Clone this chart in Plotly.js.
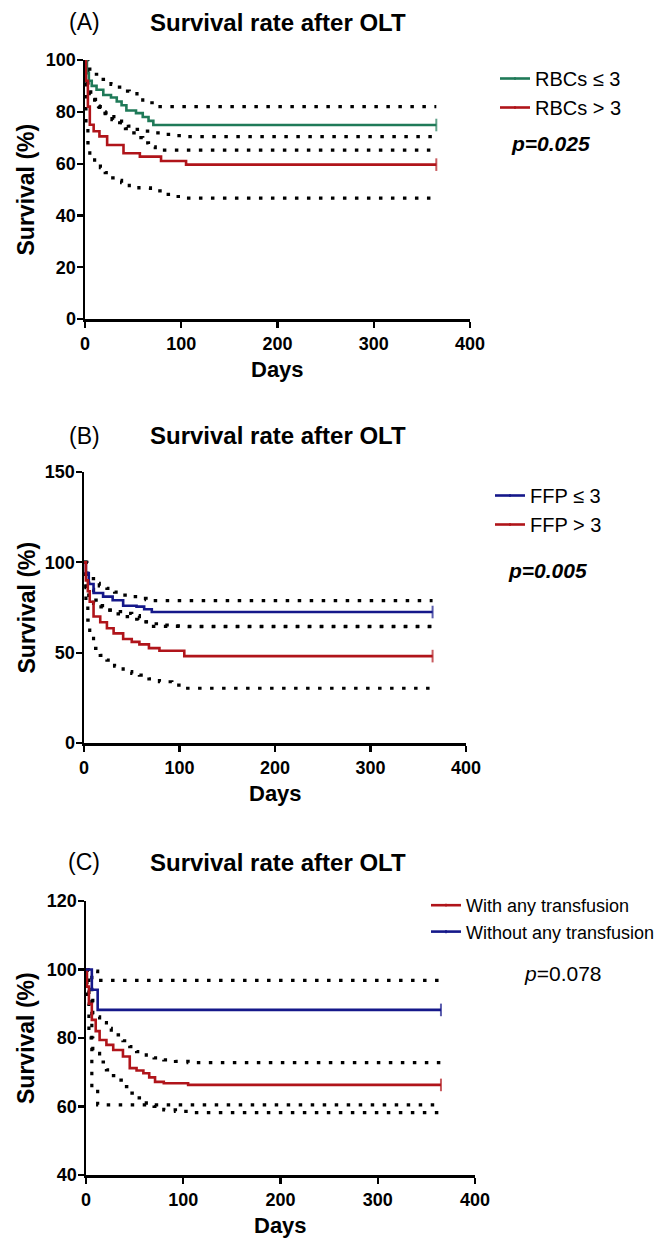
<!DOCTYPE html>
<html>
<head>
<meta charset="utf-8">
<script src="https://cdn.plot.ly/plotly-3.0.1.min.js"></script>
<style>html,body{margin:0;padding:0;background:#fff;}#chart{width:662px;height:1238px;}</style>
</head>
<body>
<div id="chart"></div>
<script>
// ---------- Panel A: RBCs ----------
const aGreenDays = [0,2,4,7,12,19,27,33,38,43,53,60,66,71,365];
const aGreenSurv = [100,95,92,90,88.5,86.5,85.5,84,82.5,80.5,79.5,78,76.5,74.9,74.9];
const aGreenUpDays = [0,3,8,16,22,27,33,38,46,54,60,65,73,365];
const aGreenUp = [100,96.5,94.5,92.5,91.5,90.6,89.5,88,87,85.4,84.5,83.5,82,82];
const aGreenLoDays = [0,3,6,10,15,21,28,36,42,47,54,60,66,73,365];
const aGreenLo = [100,88.7,85.5,82.2,80,78.4,77,75.8,73.5,71.9,70,68,66.5,65.2,65.2];
const aRedDays = [0,1,3,5,9,15,23,40,57,79,105,365];
const aRedSurv = [100,92,82,75,72.5,70.5,67.2,64,62.7,61,59.6,59.6];
const aRedUpDays = [0,2,5,8,14,21,30,38,45,51,60,69,82,95,105,365];
const aRedUp = [100,91,87,84.8,82,79.6,77.5,75.8,74.5,73.2,72.5,71.9,71.3,70.8,70.4,70.4];
const aRedLoDays = [0,1,3,5,10,16,21,25,32,38,46,56,68,80,92,105,365];
const aRedLo = [100,75.8,68,62.9,60.5,58.4,56.5,54.5,53.5,52.6,51.5,50.6,49.5,48.1,47.3,46.7,46.7];

// ---------- Panel B: FFP ----------
const bBlueDays = [0,2,5,10,20,30,41,55,63,71,365];
const bBlueSurv = [100,94,88,83,81,79,76,75.5,74,72.5,72.5];
const bBlueUpDays = [0,3,6,10,16,24,32,41,50,58,65,71,365];
const bBlueUp = [100,94,91,88.4,87,85.6,83.5,81.9,81,80,79.3,78.8,78.8];
const bBlueLoDays = [0,2,5,10,16,24,32,41,50,58,65,71,365];
const bBlueLo = [100,86,80,77.3,75.3,73.6,72.7,71.8,70.5,69,67,64.5,64.5];
const bRedDays = [0,2,4,6,10,17,24,31,41,50,58,68,79,105,365];
const bRedSurv = [100,90,84,78.2,70,66.8,63.5,60.7,57.6,56,54.6,52.5,51.1,48.1,48.1];
const bRedUpDays = [0,2,5,10,17,24,32,41,50,58,68,79,92,105,365];
const bRedUp = [100,92,85,79.1,76,73.6,71.5,69.9,68.5,67.1,66,65.3,64.8,64.4,64.4];
const bRedLoDays = [0,2,4,6,10,17,24,32,41,50,58,68,79,92,105,365];
const bRedLo = [100,78,68,60.7,52.4,48.5,45.9,42.5,39.5,38.5,37.6,35.5,33.9,32,30.3,30.3];

// ---------- Panel C: any transfusion ----------
const cBlueDays = [0,6,12,365];
const cBlueSurv = [100,94.1,88.2,88.2];
const cBlueUp = [100,99.5,96.8,96.8];
const cBlueLo = [100,65,60.5,60.5];
const cRedDays = [0,1,3,6,10,14,21,28,38,45,52,59,65,71,80,105,365];
const cRedSurv = [100,95,90,85.3,82,79.4,78,76.5,74.6,71.2,70.5,69.7,68.5,67.2,66.8,66.3,66.3];
const cRedCIDays = [0,1,3,7,14,21,26,31,38,45,52,62,70,80,92,105,365];
const cRedUp = [100,98,92,86.2,84.5,82.8,81.8,80.9,79.2,77.5,76,75,74.2,73.6,73.2,72.8,72.8];
const cRedLo = [100,90,80,75.5,73,70.7,69,67.7,65.8,63.9,62.5,61,60,59,58.6,58.2,58.2];

const namesA = ['RBCs ≤ 3','RBCs > 3'];
const namesB = ['FFP ≤ 3','FFP > 3'];
const namesC = ['With any transfusion','Without any transfusion'];

const GREEN = '#1f7a58', RED = '#b0141a', BLUE = '#15188a';
const FONT = 'Arial, "Liberation Sans", sans-serif';

function km(x, y, color, name, xa, ya, legend) {
  return {
    x: x, y: y, type: 'scatter', mode: 'lines+markers', name: name,
    xaxis: xa, yaxis: ya, legend: legend,
    line: {color: color, width: 2.6, shape: 'hv'},
    marker: {symbol: 'line-ns-open', color: color, line: {color: color, width: 2},
             size: x.map((d, i) => i === x.length - 1 ? 9 : 0)},
    hoverinfo: 'skip'
  };
}
function ci(x, y, xa, ya) {
  return {
    x: x, y: y, type: 'scatter', mode: 'lines', showlegend: false,
    xaxis: xa, yaxis: ya,
    line: {color: '#000', width: 3.2, shape: 'hv', dash: '3.5px,8.5px'},
    hoverinfo: 'skip'
  };
}

const data = [
  ci(aGreenUpDays, aGreenUp, 'x', 'y'),
  ci(aGreenLoDays, aGreenLo, 'x', 'y'),
  ci(aRedUpDays, aRedUp, 'x', 'y'),
  ci(aRedLoDays, aRedLo, 'x', 'y'),
  km(aGreenDays, aGreenSurv, GREEN, namesA[0], 'x', 'y', 'legend'),
  km(aRedDays, aRedSurv, RED, namesA[1], 'x', 'y', 'legend'),

  ci(bBlueUpDays, bBlueUp, 'x2', 'y2'),
  ci(bBlueLoDays, bBlueLo, 'x2', 'y2'),
  ci(bRedUpDays, bRedUp, 'x2', 'y2'),
  ci(bRedLoDays, bRedLo, 'x2', 'y2'),
  km(bBlueDays, bBlueSurv, BLUE, namesB[0], 'x2', 'y2', 'legend2'),
  km(bRedDays, bRedSurv, RED, namesB[1], 'x2', 'y2', 'legend2'),

  ci(cBlueDays, cBlueUp, 'x3', 'y3'),
  ci(cBlueDays, cBlueLo, 'x3', 'y3'),
  ci(cRedCIDays, cRedUp, 'x3', 'y3'),
  ci(cRedCIDays, cRedLo, 'x3', 'y3'),
  km(cRedDays, cRedSurv, RED, namesC[0], 'x3', 'y3', 'legend3'),
  km(cBlueDays, cBlueSurv, BLUE, namesC[1], 'x3', 'y3', 'legend3')
];

const W = 662, H = 1238;
const px = v => v / W;
const py = v => 1 - v / H;

function xax(dom, anchor) {
  return {
    domain: dom, anchor: anchor, range: [0, 400], dtick: 100, tick0: 0,
    showline: true, linecolor: '#000', linewidth: 2.5, ticks: 'outside', ticklen: 6,
    tickwidth: 2.2, tickcolor: '#000', showgrid: false, zeroline: false,
    tickfont: {family: FONT, size: 18, color: '#000', weight: 'bold'},
    ticklabelstandoff: 1, fixedrange: true
  };
}
function yax(dom, anchor, range, dtick) {
  return {
    domain: dom, anchor: anchor, range: range, dtick: dtick, tick0: 0,
    showline: true, linecolor: '#000', linewidth: 2.5, ticks: 'outside', ticklen: 6,
    tickwidth: 2.2, tickcolor: '#000', showgrid: false, zeroline: false,
    tickfont: {family: FONT, size: 18, color: '#000', weight: 'bold'},
    ticklabelstandoff: -3, fixedrange: true
  };
}

const panels = [
  {lab: '(A)', top: 22, x0: 85, x1: 470, y0: 60, y1: 319, daysY: 369, p: '<b><i>p=0.025</i></b>', pX: 550, pY: 143},
  {lab: '(B)', top: 436, x0: 84, x1: 466, y0: 472, y1: 743, daysY: 793, p: '<b><i>p=0.005</i></b>', pX: 547, pY: 570},
  {lab: '(C)', top: 862, x0: 86, x1: 475, y0: 901, y1: 1175, daysY: 1225, p: '<i>p</i>=0.078', pX: 563, pY: 973}
];

const annotations = [];
panels.forEach(pn => {
  annotations.push({text: pn.lab, xref: 'paper', yref: 'paper', x: px(84), y: py(pn.top),
    xanchor: 'center', yanchor: 'middle', showarrow: false, font: {family: FONT, size: 23, color: '#000'}});
  annotations.push({text: '<b>Survival rate after OLT</b>', xref: 'paper', yref: 'paper', x: px(278), y: py(pn.top),
    xanchor: 'center', yanchor: 'middle', showarrow: false, font: {family: FONT, size: 24, color: '#000'}});
  annotations.push({text: '<b>Survival (%)</b>', xref: 'paper', yref: 'paper', x: px(26), y: py((pn.y0 + pn.y1) / 2),
    xanchor: 'center', yanchor: 'middle', textangle: -90, showarrow: false, font: {family: FONT, size: 23, color: '#000'}});
  annotations.push({text: '<b>Days</b>', xref: 'paper', yref: 'paper', x: px((pn.x0 + pn.x1) / 2), y: py(pn.daysY),
    xanchor: 'center', yanchor: 'middle', showarrow: false, font: {family: FONT, size: 22, color: '#000'}});
  annotations.push({text: pn.p, xref: 'paper', yref: 'paper', x: px(pn.pX), y: py(pn.pY),
    xanchor: 'center', yanchor: 'middle', showarrow: false, font: {family: FONT, size: 21, color: '#000'}});
});

function leg(x, y, size) {
  return {x: px(x), y: py(y), xanchor: 'left', yanchor: 'top', bgcolor: 'rgba(0,0,0,0)',
    font: {family: FONT, size: size, color: '#000'}, tracegroupgap: 0, itemwidth: 30};
}

const layout = {
  width: W, height: H, margin: {l: 0, r: 0, t: 0, b: 0},
  paper_bgcolor: '#fff', plot_bgcolor: '#fff', showlegend: true,
  xaxis: xax([px(85), px(470)], 'y'),
  yaxis: yax([py(319), py(60)], 'x', [0, 100], 20),
  xaxis2: xax([px(84), px(466)], 'y2'),
  yaxis2: yax([py(743), py(472)], 'x2', [0, 150], 50),
  xaxis3: xax([px(86), px(475)], 'y3'),
  yaxis3: yax([py(1175), py(901)], 'x3', [40, 120], 20),
  legend: leg(495, 59, 20),
  legend2: leg(490, 476, 20),
  legend3: leg(426, 887, 18),
  annotations: annotations
};

Plotly.newPlot('chart', data, layout, {displayModeBar: false, staticPlot: true});
</script>
</body>
</html>
